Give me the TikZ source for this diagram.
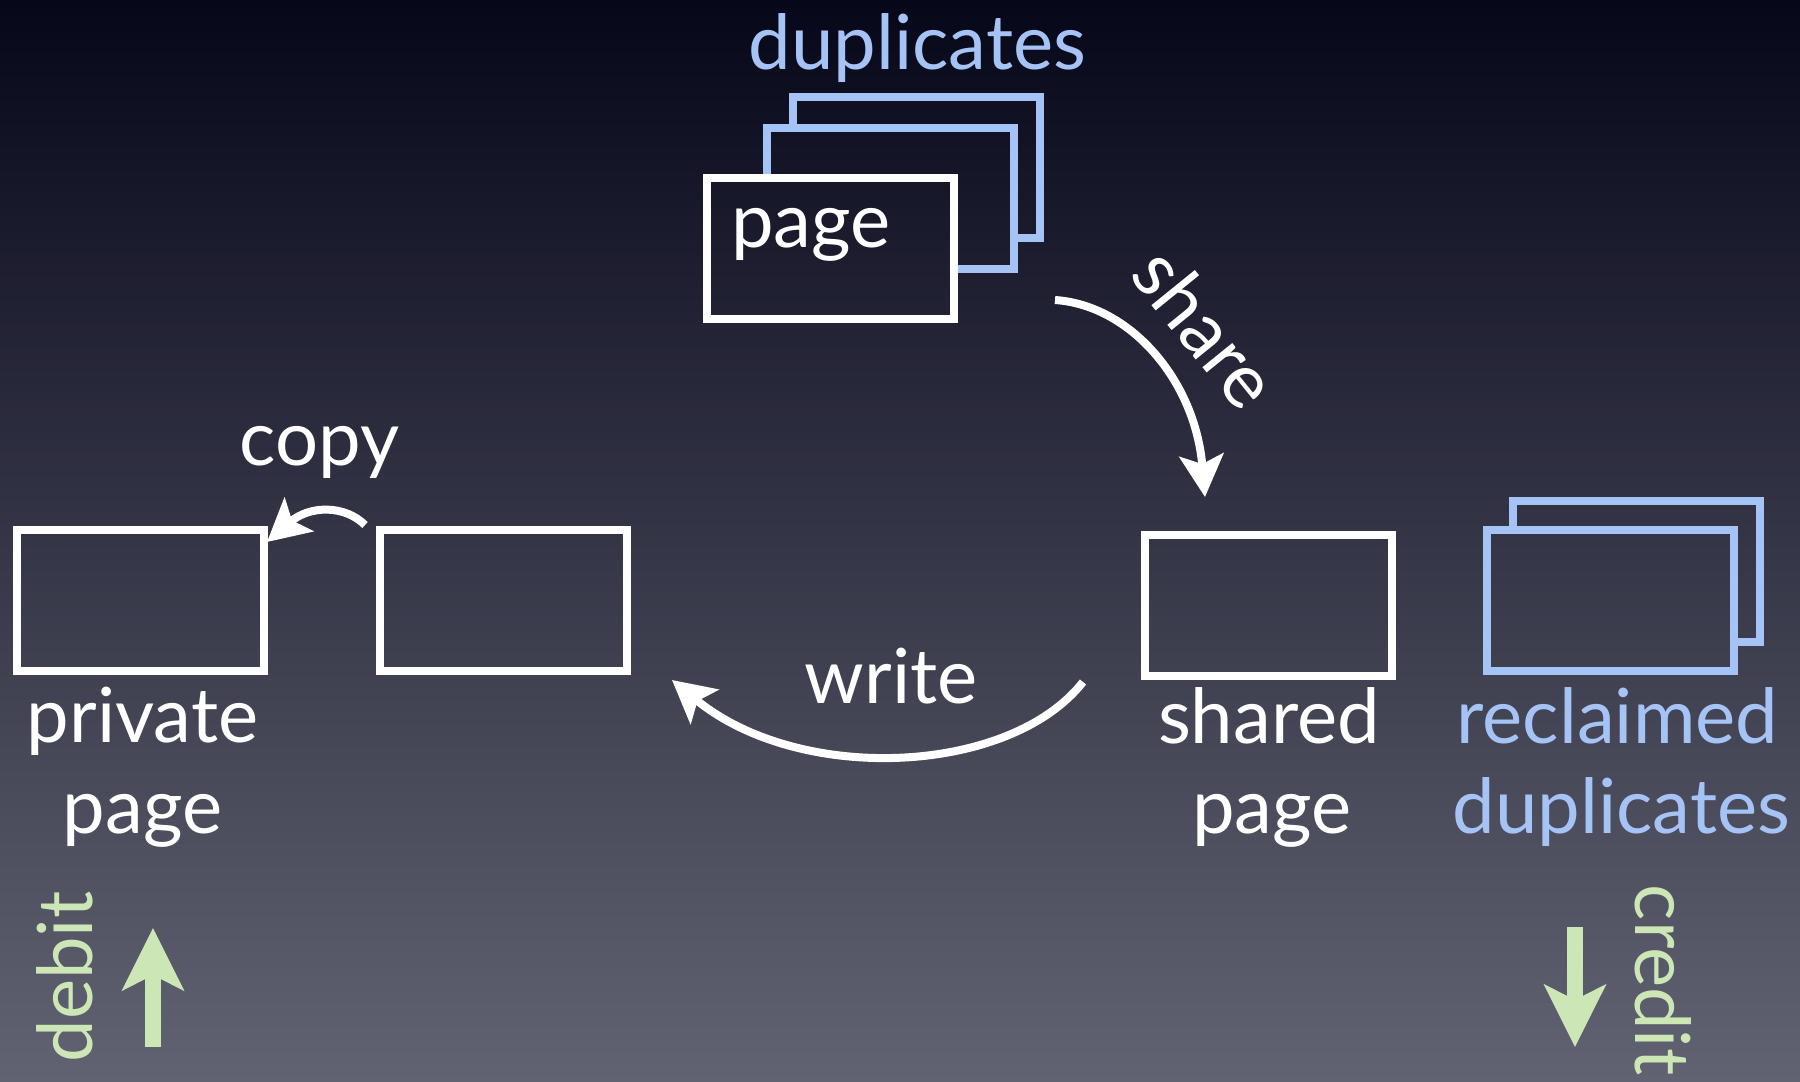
\documentclass[tikz,border=0pt]{standalone}
\usepackage{fontspec}
\setmainfont{Lato}
\usetikzlibrary{arrows.meta}

\definecolor{bgtop}{HTML}{07071A}
\definecolor{bgmid}{HTML}{2C2D44}
\definecolor{bgbot}{HTML}{626372}
\definecolor{dupblue}{HTML}{A6C3F5}
\definecolor{ledgergreen}{HTML}{CCE6B6}

% backdrop gradient, also reused to hide what lies behind a front page
\newcommand\bgshade{\shade[top color=bgtop, middle color=bgmid, bottom color=bgbot] (0,0) rectangle (1800,1082);}
\newcommand\hideunder[1]{\begin{scope}\clip (#1) ++(-123.5,-70.5) rectangle ++(247,141);\bgshade\end{scope}}

\begin{document}
\begin{tikzpicture}[x=1pt,y=-1pt,
  pagebox/.style={draw=white, line width=8pt, minimum width=247pt, minimum height=141pt, inner sep=0pt},
  dupbox/.style={pagebox, draw=dupblue},
  lbl/.style={text=white, font=\fontsize{76}{84}\selectfont, anchor=base, inner sep=0pt},
  duplbl/.style={lbl, text=dupblue},
  ledger/.style={lbl, text=ledgergreen},
  flow/.style={draw=white, line width=8pt, -{Stealth[length=42pt,width=44pt,inset=9pt]}},
  ledgerarrow/.style={draw=ledgergreen, line width=16pt, -{Stealth[length=62pt,width=61pt,inset=15pt]}}
]
\useasboundingbox (0,0) rectangle (1800,1082);
\clip (0,0) rectangle (1800,1082);
\bgshade

% stack of duplicate pages
\node[duplbl] (duptop) at (917.5,69) {duplicates};
\node[dupbox] (dupback) at (916.5,167) {};
\hideunder{890,198}
\node[dupbox] (dupmid) at (890,198) {};
\hideunder{830.5,248}
\node[pagebox] (orig) at (830.5,248) {};
\node[lbl] (origlbl) at (811,247) {page};

% private page and its copy source
\node[pagebox] (private) at (140,600) {};
\node[pagebox] (copysrc) at (503,600) {};
\node[lbl] (privlbl) at (142.5,742) {private};
\node[lbl] (privlbl2) at (142.5,833) {page};
\node[lbl] (copylbl) at (319.5,465) {copy};

% shared page
\node[pagebox] (shared) at (1268.5,605.5) {};
\node[lbl] (sharedlbl) at (1269,743) {shared};
\node[lbl] (sharedlbl2) at (1272,833) {page};

% reclaimed duplicates
\node[dupbox] (reclback) at (1636.5,571.5) {};
\hideunder{1610,600}
\node[dupbox] (reclfront) at (1610,600) {};
\node[duplbl] (recllbl) at (1617.5,743) {reclaimed};
\node[duplbl] (recllbl2) at (1621.5,833) {duplicates};

% transitions
\node[lbl] (writelbl) at (891,703) {write};
\node[lbl, rotate=-51, anchor=center] (sharelbl) at (1206,328) {share};

\coordinate (share-from) at (1055,300);
\coordinate (share-to) at (1205,497);
\draw[flow] (share-from) .. controls (1130,305) and (1195,380) .. (share-to);

\coordinate (write-from) at (1083,682);
\coordinate (write-to) at (672,680);
\draw[flow] (write-from) .. controls (1010,775) and (800,785) .. (write-to);

\coordinate (copy-from) at (365,525);
\coordinate (copy-to) at (267,542);
\draw[flow] (copy-from) .. controls (345,505) and (310,505) .. (copy-to);

% debit and credit
\node[ledger, rotate=90] (debitlbl) at (92,977) {debit};
\coordinate (debit-from) at (153,1047);
\coordinate (debit-to) at (153,928);
\draw[ledgerarrow] (debit-from) -- (debit-to);

\node[ledger, rotate=-90] (creditlbl) at (1635,980) {credit};
\coordinate (credit-from) at (1575,927);
\coordinate (credit-to) at (1575,1047);
\draw[ledgerarrow] (credit-from) -- (credit-to);
\end{tikzpicture}
\end{document}
